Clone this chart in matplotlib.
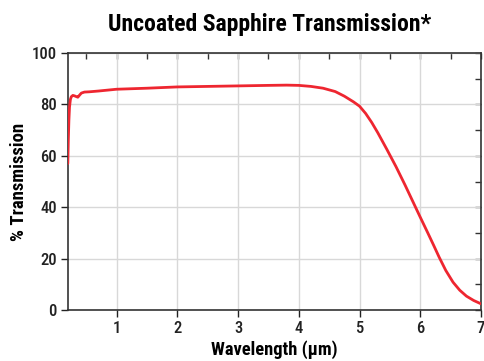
import matplotlib
matplotlib.use("Agg")
import matplotlib.pyplot as plt
from matplotlib.ticker import MultipleLocator

wavelength = [0.197, 0.205, 0.215, 0.225, 0.24, 0.255, 0.28, 0.31, 0.34, 0.362, 0.39, 0.42, 0.47,
              0.55, 0.7, 1.0, 1.5, 2.0, 2.5, 3.0, 3.5, 3.8, 4.0, 4.2, 4.4, 4.6, 4.75, 4.9,
              5.0, 5.1, 5.2, 5.3, 5.45, 5.6, 5.75, 5.91, 6.0, 6.12, 6.22, 6.31, 6.42, 6.54,
              6.65, 6.76, 6.88, 7.0]
transmission = [57.0, 66.0, 74.0, 79.0, 82.0, 83.0, 83.5, 83.3, 83.0, 82.8, 83.6, 84.4, 84.8,
                84.9, 85.2, 85.9, 86.3, 86.8, 87.0, 87.2, 87.4, 87.5, 87.4, 87.0, 86.3, 85.0,
                83.2, 81.0, 79.3, 76.5, 73.0, 69.0, 62.5, 55.8, 48.6, 40.6, 36.1, 30.2, 25.2,
                20.6, 15.4, 10.8, 7.7, 5.4, 3.7, 2.4]

xticks = [1, 2, 3, 4, 5, 6, 7]
yticks = [0, 20, 40, 60, 80, 100]

fam = ['Roboto Condensed', 'DejaVu Sans']
plt.rcParams['font.family'] = fam

fig = plt.figure(figsize=(4.85, 3.61), dpi=100)
ax = fig.add_axes([68/485, 51/361, 413/485, 257/361])

ax.plot(wavelength, transmission, color='#ee2630', linewidth=2.0, solid_capstyle='round', zorder=3)

ax.set_xlim(0.2, 7.0)
ax.set_ylim(0, 100)
ax.set_xticks(xticks)
ax.set_yticks(yticks)
ax.grid(True, color='#d8d8d8', linewidth=1.0, zorder=0)
ax.set_axisbelow(True)
ax.tick_params(axis='both', direction='out', length=5, width=1, labelsize=12, colors='#222222', pad=3)
for lab in ax.get_xticklabels() + ax.get_yticklabels():
    lab.set_fontweight('medium')
for s in ax.spines.values():
    s.set_color('#333333')
    s.set_linewidth(1.2)

# top and right minor ticks
axt = ax.secondary_xaxis('top')
axt.xaxis.set_major_locator(MultipleLocator(0.5))
axt.tick_params(direction='in', length=4, width=1, labeltop=False, colors='#333333')
axt.spines['top'].set_visible(False)
axr = ax.secondary_yaxis('right')
axr.yaxis.set_major_locator(MultipleLocator(10))
axr.tick_params(direction='in', length=4, width=1, labelright=False, colors='#333333')
axr.spines['right'].set_visible(False)

ax.set_xlabel('Wavelength (µm)', fontsize=13.3, fontweight='bold', labelpad=3)
ax.set_ylabel('% Transmission', fontsize=13.5, fontweight='bold', labelpad=3)
fig.text(0.555, 0.933, 'Uncoated Sapphire Transmission*', ha='center', va='center',
         fontsize=17, fontweight='bold')

fig.savefig('out.png', dpi=100)
